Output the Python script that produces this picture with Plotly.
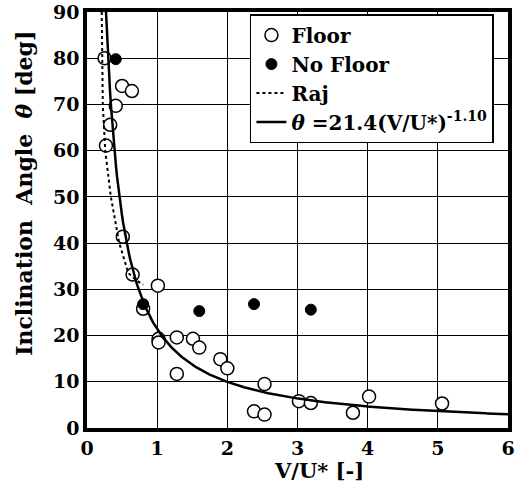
import numpy as np
import plotly.graph_objects as go

# Floor (open circles)
floor_x = [0.25, 0.27, 0.33, 0.41, 0.50, 0.64, 0.51, 0.65, 0.80, 1.01, 1.02, 1.02, 1.28, 1.51, 1.60,
           1.90, 2.00, 1.28, 2.53, 3.02, 3.19, 2.38, 2.53, 3.79, 4.02, 5.06]
floor_y = [80.0, 61.1, 65.6, 69.7, 74.0, 72.9, 41.4, 33.2, 25.8, 30.8, 19.3, 18.5, 19.6, 19.3, 17.4,
           14.9, 12.9, 11.7, 9.5, 5.8, 5.4, 3.6, 2.9, 3.3, 6.8, 5.3]

# No Floor (filled circles)
nofloor_x = [0.41, 0.80, 1.60, 2.38, 3.19]
nofloor_y = [79.8, 26.8, 25.3, 26.8, 25.6]

# Raj (dotted curve)
raj_x = [0.21, 0.215, 0.225, 0.26, 0.34, 0.46, 0.59, 0.70, 0.80]
raj_y = [90, 80, 70, 60, 50, 40, 33.5, 32.0, 31.0]

# Fit: theta = 21.4 (V/U*)^-1.10
fit_a = 21.4
fit_b = -1.10
fit_xmin = (90 / fit_a) ** (1 / fit_b)
fit_x = np.linspace(fit_xmin, 6, 400)
fit_y = fit_a * fit_x ** fit_b

x_ticks = [0, 1, 2, 3, 4, 5, 6]
y_ticks = [0, 10, 20, 30, 40, 50, 60, 70, 80, 90]

FONT = "DejaVu Serif"

fig = go.Figure()
fig.add_trace(go.Scatter(x=floor_x, y=floor_y, mode="markers", name="Floor",
                         marker=dict(symbol="circle", size=13, color="white",
                                     line=dict(color="black", width=1.5))))
fig.add_trace(go.Scatter(x=nofloor_x, y=nofloor_y, mode="markers", name="No Floor",
                         marker=dict(symbol="circle", size=11, color="black",
                                     line=dict(color="black", width=1))))
fig.add_trace(go.Scatter(x=raj_x, y=raj_y, mode="lines", name="Raj",
                         line=dict(color="black", width=2, dash="dot")))
fig.add_trace(go.Scatter(x=fit_x, y=fit_y, mode="lines",
                         name="<i>θ</i> =21.4(V/U*)<sup>-1.10</sup>",
                         line=dict(color="black", width=2.5)))

axis_common = dict(showgrid=True, gridcolor="black", gridwidth=1.3,
                   showline=True, linecolor="black", linewidth=3.5, mirror=True,
                   zeroline=False, ticks="", automargin=False,
                   tickfont=dict(family=FONT, size=19, color="black", weight="bold"))

fig.update_xaxes(range=[0, 6], tickvals=x_ticks, **axis_common)
fig.update_yaxes(range=[0, 90], tickvals=y_ticks, **axis_common)

fig.update_layout(
    width=521, height=487,
    margin=dict(l=87, r=13, t=12, b=59, autoexpand=False),
    plot_bgcolor="white", paper_bgcolor="white",
    showlegend=True,
    legend=dict(x=0.387, y=0.995, xanchor="left", yanchor="top",
                bgcolor="white", bordercolor="black", borderwidth=1.5,
                font=dict(family=FONT, size=20, color="black", weight="bold"),
                itemsizing="trace", tracegroupgap=0, entrywidth=222,
                entrywidthmode="pixels"),
    annotations=[
        dict(text="Inclination  Angle  <i>θ</i> [deg]", xref="paper", yref="paper",
             x=-0.15, y=0.565, xanchor="center", yanchor="middle", textangle=-90,
             showarrow=False,
             font=dict(family=FONT, size=22, color="black", weight="bold")),
        dict(text="V/U* [-]", xref="paper", yref="paper",
             x=0.55, y=-0.103, xanchor="center", yanchor="middle",
             showarrow=False,
             font=dict(family=FONT, size=21, color="black", weight="bold")),
    ],
)

fig.write_html("out.html")
